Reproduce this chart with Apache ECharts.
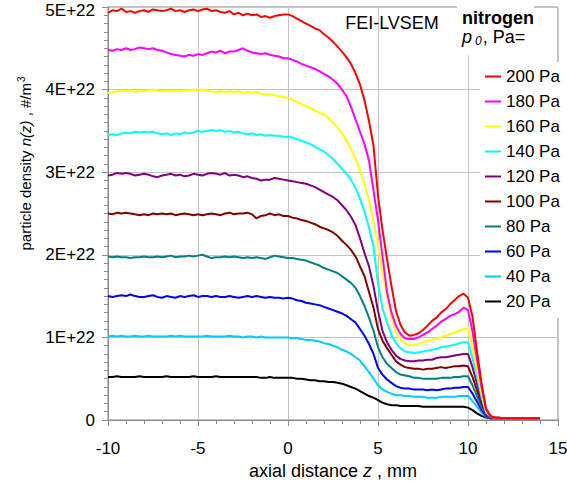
<!DOCTYPE html>
<html>
<head>
<meta charset="utf-8">
<script src="https://cdn.jsdelivr.net/npm/echarts@6/dist/echarts.min.js"></script>
<style>
html,body{margin:0;padding:0;background:#fff;}
#chart{width:567px;height:483px;}
</style>
</head>
<body>
<div id="chart"></div>
<script>
// axial distance z, mm (shared sample positions)
const zMm = [
-10,-9.75,-9.5,-9.25, -9,-8.75,-8.5,-8.25, -8,-7.75,-7.5,-7.25, -7,-6.75,-6.5,-6.25, -6,-5.75,-5.5,-5.25,
-5,-4.75,-4.5,-4.25, -4,-3.75,-3.5,-3.25, -3,-2.75,-2.5,-2.25, -2,-1.75,-1.5,-1.25, -1,-0.75,-0.5,-0.25,
0,0.25,0.5,0.75, 1,1.25,1.5,1.75, 2,2.25,2.5,2.75, 3,3.25,3.5,3.75, 4,4.25,4.5,4.75,
5,5.25,5.5,5.75, 6,6.25,6.5,6.75, 7,7.25,7.5,7.75, 8,8.25,8.5,8.75, 9,9.25,9.5,9.75,
10,10.25,10.5,10.75, 11,11.25,11.5, 12,12.5,13,13.5,14
];

// particle density n(z), in units of 1E+22 #/m^3
const n200 = [
4.93,4.96,4.95,4.98, 4.94,4.95,4.93,4.95, 4.96,4.94,4.97,4.96, 4.95,4.96,4.98,4.95, 4.96,4.94,4.96,4.97,
4.95,4.97,4.98,4.95, 4.96,4.94,4.93,4.95, 4.91,4.93,4.90,4.92, 4.90,4.91,4.88,4.89, 4.87,4.89,4.90,4.91,
4.91,4.89,4.86,4.83, 4.80,4.77,4.74,4.72, 4.67,4.63,4.58,4.52, 4.46,4.39,4.31,4.20, 4.06,3.87,3.62,3.32,
2.72,2.30,1.95,1.62, 1.32,1.15,1.06,1.02, 1.03,1.05,1.09,1.14, 1.20,1.24,1.30,1.34, 1.40,1.45,1.50,1.53,
1.48,1.25,0.83,0.45, 0.14,0.05,0.03, 0.02,0.02,0.02,0.02,0.02
];
const n180 = [
4.48,4.47,4.49,4.48, 4.50,4.48,4.49,4.51, 4.50,4.49,4.50,4.48, 4.47,4.45,4.43,4.42, 4.41,4.40,4.42,4.41,
4.43,4.42,4.44,4.46, 4.45,4.47,4.44,4.46, 4.46,4.48,4.50,4.47, 4.45,4.44,4.43,4.44, 4.42,4.41,4.40,4.38,
4.38,4.36,4.34,4.31, 4.29,4.27,4.25,4.22, 4.19,4.16,4.12,4.07, 4.00,3.92,3.79,3.64, 3.49,3.34,3.14,2.78,
2.42,1.98,1.55,1.30, 1.14,1.04,0.99,0.98, 0.98,1.00,1.03,1.06, 1.10,1.14,1.19,1.22, 1.26,1.28,1.31,1.36,
1.33,1.07,0.73,0.40, 0.13,0.04,0.03, 0.02,0.02,0.02,0.02,0.02
];
const n160 = [
3.96,3.97,3.98,3.99, 3.98,3.99,3.97,3.99, 3.98,3.99,4.00,3.99, 3.98,3.99,3.98,3.99, 3.98,3.99,3.99,4.00,
3.99,4.00,3.99,3.98, 3.97,3.98,3.97,3.98, 3.97,3.98,3.96,3.97, 3.96,3.97,3.95,3.94, 3.94,3.93,3.92,3.91,
3.90,3.88,3.85,3.82, 3.80,3.78,3.75,3.72, 3.70,3.66,3.60,3.54, 3.47,3.38,3.28,3.16, 3.02,2.86,2.66,2.40,
2.12,1.78,1.50,1.24, 1.06,0.98,0.93,0.90, 0.91,0.92,0.94,0.96, 0.97,0.99,1.00,1.02, 1.04,1.06,1.08,1.10,
1.11,0.89,0.61,0.33, 0.11,0.04,0.03, 0.02,0.02,0.02,0.02,0.02
];
const n140 = [
3.45,3.46,3.45,3.47, 3.48,3.47,3.49,3.48, 3.49,3.48,3.49,3.47, 3.46,3.47,3.45,3.47, 3.46,3.48,3.47,3.48,
3.50,3.49,3.50,3.51, 3.50,3.51,3.49,3.50, 3.48,3.49,3.47,3.46, 3.47,3.45,3.46,3.44, 3.45,3.44,3.44,3.43,
3.43,3.42,3.40,3.38, 3.36,3.34,3.31,3.28, 3.25,3.21,3.16,3.10, 3.04,2.98,2.91,2.81, 2.68,2.52,2.33,2.10,
1.65,1.35,1.18,1.03, 0.93,0.87,0.83,0.82, 0.81,0.82,0.83,0.84, 0.85,0.86,0.88,0.89, 0.90,0.91,0.93,0.94,
0.94,0.75,0.52,0.28, 0.09,0.04,0.03, 0.02,0.02,0.02,0.02,0.02
];
const n120 = [
2.96,2.97,2.99,2.98, 2.99,2.98,2.96,2.97, 2.98,2.97,2.95,2.94, 2.96,2.97,2.98,2.96, 2.97,2.95,2.96,2.98,
2.97,2.96,2.98,2.99, 2.98,2.97,2.99,2.96, 2.97,2.96,2.94,2.95, 2.93,2.92,2.90,2.91, 2.91,2.93,2.92,2.91,
2.90,2.89,2.88,2.87, 2.86,2.84,2.82,2.79, 2.76,2.73,2.70,2.66, 2.60,2.54,2.46,2.36, 2.20,2.02,1.86,1.62,
1.32,1.08,0.94,0.85, 0.78,0.74,0.72,0.71, 0.71,0.72,0.72,0.73, 0.73,0.75,0.76,0.76, 0.77,0.78,0.79,0.80,
0.80,0.64,0.44,0.24, 0.08,0.04,0.03, 0.02,0.02,0.02,0.02,0.02
];
const n100 = [
2.50,2.49,2.51,2.50, 2.51,2.50,2.49,2.48, 2.49,2.48,2.50,2.49, 2.50,2.49,2.50,2.48, 2.49,2.50,2.49,2.48,
2.49,2.48,2.49,2.50, 2.49,2.48,2.50,2.51, 2.49,2.50,2.50,2.51, 2.49,2.44,2.47,2.48, 2.50,2.48,2.49,2.47,
2.47,2.45,2.44,2.42, 2.41,2.39,2.37,2.34, 2.32,2.30,2.27,2.23, 2.17,2.12,2.06,1.98, 1.86,1.74,1.55,1.36,
1.10,0.96,0.87,0.79, 0.71,0.67,0.64,0.63, 0.62,0.62,0.61,0.62, 0.62,0.63,0.64,0.63, 0.64,0.65,0.65,0.66,
0.65,0.52,0.36,0.20, 0.07,0.03,0.03, 0.02,0.02,0.02,0.02,0.02
];
const n80 = [
1.98,1.97,1.98,1.97, 1.97,1.96,1.97,1.97, 1.98,1.97,1.97,1.98, 1.97,1.98,1.99,1.97, 1.98,1.98,1.99,1.98,
1.99,2.00,1.98,1.96, 1.97,1.97,1.98,1.97, 1.98,1.97,1.96,1.97, 1.96,1.97,1.96,1.95, 1.97,1.99,1.98,1.97,
1.96,1.96,1.95,1.94, 1.93,1.91,1.89,1.87, 1.84,1.82,1.80,1.78, 1.74,1.70,1.66,1.60, 1.50,1.38,1.24,1.08,
0.88,0.76,0.68,0.63, 0.58,0.55,0.54,0.53, 0.51,0.51,0.50,0.50, 0.50,0.50,0.51,0.51, 0.51,0.52,0.52,0.53,
0.53,0.42,0.29,0.16, 0.06,0.03,0.02, 0.02,0.02,0.02,0.02,0.02
];
const n60 = [
1.50,1.49,1.50,1.51, 1.50,1.52,1.50,1.49, 1.49,1.50,1.51,1.49, 1.48,1.50,1.49,1.48, 1.50,1.49,1.50,1.51,
1.49,1.50,1.50,1.49, 1.50,1.49,1.49,1.50, 1.49,1.48,1.49,1.50, 1.49,1.50,1.49,1.48, 1.49,1.48,1.48,1.47,
1.48,1.47,1.45,1.44, 1.42,1.41,1.40,1.39, 1.37,1.35,1.33,1.31, 1.29,1.26,1.22,1.18, 1.10,1.02,0.92,0.80,
0.63,0.55,0.49,0.45, 0.41,0.39,0.38,0.38, 0.37,0.37,0.37,0.36, 0.37,0.36,0.37,0.38, 0.38,0.39,0.39,0.40,
0.40,0.32,0.22,0.12, 0.05,0.02,0.02, 0.02,0.02,0.02,0.02,0.02
];
const n40 = [
1.01,1.02,1.01,1.02, 1.01,1.01,1.02,1.01, 1.01,1.02,1.01,1.01, 1.01,1.01,1.02,1.01, 1.02,1.01,1.01,1.01,
1.01,1.01,1.02,1.01, 1.01,1.01,1.01,1.02, 1.01,1.01,1.00,1.01, 1.01,1.00,1.01,1.00, 1.00,1.00,1.00,1.00,
1.00,0.99,0.99,0.98, 0.97,0.97,0.96,0.95, 0.93,0.92,0.90,0.88, 0.85,0.83,0.80,0.76, 0.72,0.65,0.58,0.50,
0.42,0.37,0.34,0.32, 0.30,0.30,0.29,0.29, 0.28,0.28,0.28,0.27, 0.27,0.27,0.28,0.28, 0.28,0.28,0.29,0.29,
0.29,0.23,0.16,0.09, 0.04,0.02,0.02, 0.02,0.02,0.02,0.02,0.02
];
const n20 = [
0.52,0.52,0.53,0.52, 0.52,0.52,0.52,0.53, 0.52,0.52,0.52,0.52, 0.52,0.53,0.52,0.52, 0.52,0.52,0.52,0.53,
0.52,0.52,0.52,0.52, 0.53,0.52,0.52,0.52, 0.52,0.52,0.52,0.52, 0.52,0.52,0.51,0.51, 0.52,0.51,0.51,0.51,
0.51,0.51,0.50,0.50, 0.49,0.48,0.48,0.47, 0.47,0.46,0.46,0.45, 0.44,0.42,0.40,0.38, 0.35,0.32,0.29,0.27,
0.24,0.21,0.19,0.18, 0.18,0.17,0.17,0.17, 0.17,0.17,0.16,0.16, 0.16,0.16,0.16,0.16, 0.16,0.16,0.16,0.16,
0.15,0.12,0.08,0.05, 0.03,0.02,0.02, 0.02,0.02,0.02,0.02,0.02
];

const seriesNames = ['200 Pa','180 Pa','160 Pa','140 Pa','120 Pa','100 Pa','80 Pa','60 Pa','40 Pa','20 Pa'];
const seriesValues = [n200, n180, n160, n140, n120, n100, n80, n60, n40, n20];
const seriesColors = ['#ff0000','#ff00ff','#ffff00','#00ffff','#800080','#800000','#008080','#0000ff','#00ccff','#000000'];
const yTickLabels = ['0','1E+22','2E+22','3E+22','4E+22','5E+22'];
const xTickLabels = ['-10','-5','0','5','10','15'];

const FONT = '"Liberation Sans", Arial, Helvetica, sans-serif';

const chart = echarts.init(document.getElementById('chart'), null, {renderer: 'svg', width: 567, height: 483});

const series = seriesNames.map((name, k) => ({
  name: name,
  type: 'line',
  data: zMm.map((z, i) => [z, seriesValues[k][i]]),
  symbol: 'none',
  showSymbol: false,
  smooth: false,
  animation: false,
  color: seriesColors[k],
  itemStyle: {color: seriesColors[k]},
  lineStyle: {color: seriesColors[k], width: 2},
  z: 2 + (seriesNames.length - k) * 0.01
}));

chart.setOption({
  animation: false,
  backgroundColor: '#ffffff',
  grid: {
    left: 108, right: 9, top: 7, bottom: 63,
    show: true, borderColor: '#8a8a8a', borderWidth: 1,
    backgroundColor: 'transparent',
    containLabel: false,
    outerBoundsMode: 'none'
  },
  xAxis: {
    type: 'value',
    min: -10, max: 15, interval: 5,
    name: 'axial distance {i|z} , mm',
    nameLocation: 'middle',
    nameGap: 35,
    nameTextStyle: {
      fontFamily: FONT, fontSize: 18, color: '#000',
      rich: {i: {fontFamily: FONT, fontSize: 18, fontStyle: 'italic', color: '#000'}}
    },
    axisLine: {show: true, onZero: false, lineStyle: {color: '#8a8a8a', width: 1}},
    axisTick: {show: true, length: 6, lineStyle: {color: '#8a8a8a'}},
    minorTick: {show: true, splitNumber: 5, length: 4, lineStyle: {color: '#8a8a8a'}},
    splitLine: {show: true, lineStyle: {color: '#c4c4c4', width: 1}},
    axisLabel: {
      margin: 20, fontFamily: FONT, fontSize: 17, color: '#000',
      formatter: v => xTickLabels[Math.round((v + 10) / 5)]
    }
  },
  yAxis: {
    type: 'value',
    min: 0, max: 5, interval: 1,
    name: 'particle density {i|n(z)} , #/m{sup|3}',
    nameLocation: 'middle',
    nameGap: 71,
    nameTextStyle: {
      fontFamily: FONT, fontSize: 15, color: '#000', lineHeight: 18,
      padding: [0, 0, 0, 100],
      rich: {
        i: {fontFamily: FONT, fontSize: 15, fontStyle: 'italic', color: '#000', lineHeight: 18},
        sup: {fontFamily: FONT, fontSize: 10, color: '#000', verticalAlign: 'top', lineHeight: 18, padding: [0, 0, 8, 1]}
      }
    },
    axisLine: {show: true, onZero: false, lineStyle: {color: '#8a8a8a', width: 1}},
    axisTick: {show: true, length: 6, lineStyle: {color: '#8a8a8a'}},
    minorTick: {show: true, splitNumber: 10, length: 4, lineStyle: {color: '#8a8a8a'}},
    splitLine: {show: true, lineStyle: {color: '#c4c4c4', width: 1}},
    axisLabel: {
      margin: 13, fontFamily: FONT, fontSize: 17, lineHeight: 17, color: '#000',
      formatter: v => {
        const i = Math.round(v);
        return i === yTickLabels.length - 1 ? '{top|' + yTickLabels[i] + '}' : yTickLabels[i];
      },
      rich: {
        top: {fontFamily: FONT, fontSize: 17, lineHeight: 17, color: '#000', padding: [7, 0, 0, 0]}
      }
    }
  },
  legend: {
    show: true,
    orient: 'vertical',
    left: 480, top: 62,
    backgroundColor: '#ffffff',
    padding: [6, 2, 8, 5],
    icon: 'rect',
    itemWidth: 16, itemHeight: 2, itemGap: 8,
    textStyle: {fontFamily: FONT, fontSize: 17, color: '#000', lineHeight: 17},
    data: seriesNames.map((n, k) => ({name: n, icon: 'rect', itemStyle: {color: seriesColors[k]}})),
    selectedMode: false
  },
  graphic: [
    {type: 'text', z: 10, x: 392, y: 23,
     style: {text: 'FEI-LVSEM', font: '18px ' + FONT, fill: '#000', align: 'center', verticalAlign: 'middle'}},
    {type: 'rect', z: 9, shape: {x: 457, y: 0, width: 77, height: 55}, style: {fill: '#ffffff'}},
    {type: 'text', z: 10, x: 462, y: 18,
     style: {text: 'nitrogen', font: 'bold 18px ' + FONT, fill: '#000', align: 'left', verticalAlign: 'middle'}},
    {type: 'text', z: 10, x: 462, y: 37,
     style: {
       text: '{i|p}{s|0}, Pa=',
       font: '18px ' + FONT, fill: '#000', align: 'left', verticalAlign: 'middle',
       rich: {
         i: {font: 'italic 18px ' + FONT, fill: '#000', lineHeight: 20},
         s: {font: 'italic 12px ' + FONT, fill: '#000', verticalAlign: 'bottom', lineHeight: 12, padding: [0, 1, 0, 3]}
       }
     }}
  ],
  series: series
});
</script>
</body>
</html>
